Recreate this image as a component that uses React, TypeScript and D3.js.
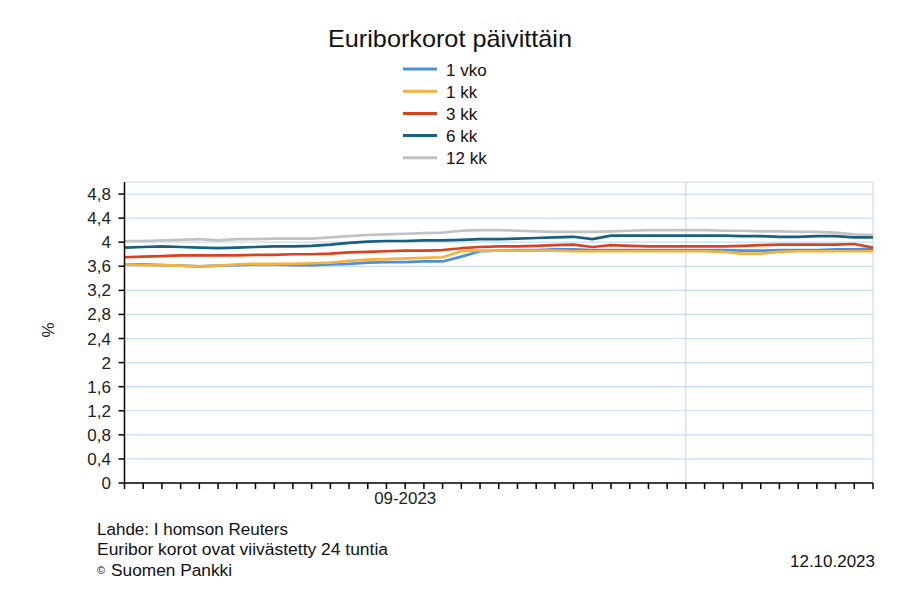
import React from "react";
import * as d3 from "d3";

const seriesNames = ["1 vko", "1 kk", "3 kk", "6 kk", "12 kk"];
const seriesColors = ["#4a8fe0", "#f5b13d", "#d8431c", "#17607f", "#c2c2c2"];

const vko1 = [3.63, 3.63, 3.62, 3.61, 3.60, 3.61, 3.62, 3.63, 3.63, 3.62, 3.62, 3.63, 3.64, 3.66, 3.67, 3.67, 3.68, 3.68, 3.76, 3.85, 3.86, 3.87, 3.87, 3.88, 3.88, 3.87, 3.87, 3.87, 3.87, 3.87, 3.87, 3.87, 3.87, 3.86, 3.86, 3.87, 3.87, 3.87, 3.88, 3.88, 3.89];
const kk1 = [3.63, 3.62, 3.62, 3.61, 3.60, 3.61, 3.63, 3.64, 3.64, 3.64, 3.65, 3.66, 3.69, 3.71, 3.72, 3.73, 3.74, 3.75, 3.85, 3.86, 3.86, 3.86, 3.86, 3.86, 3.85, 3.85, 3.85, 3.85, 3.85, 3.85, 3.85, 3.85, 3.84, 3.81, 3.81, 3.84, 3.85, 3.85, 3.85, 3.85, 3.85];
const kk3 = [3.75, 3.76, 3.77, 3.78, 3.78, 3.78, 3.78, 3.79, 3.79, 3.80, 3.80, 3.81, 3.83, 3.84, 3.85, 3.86, 3.86, 3.87, 3.90, 3.92, 3.93, 3.93, 3.94, 3.95, 3.96, 3.92, 3.95, 3.94, 3.93, 3.93, 3.93, 3.93, 3.93, 3.94, 3.95, 3.96, 3.96, 3.96, 3.96, 3.97, 3.91];
const kk6 = [3.91, 3.92, 3.93, 3.92, 3.91, 3.90, 3.91, 3.92, 3.93, 3.93, 3.94, 3.96, 3.99, 4.01, 4.02, 4.02, 4.03, 4.03, 4.04, 4.05, 4.05, 4.06, 4.07, 4.08, 4.09, 4.05, 4.11, 4.11, 4.11, 4.11, 4.11, 4.11, 4.11, 4.10, 4.10, 4.09, 4.09, 4.10, 4.10, 4.08, 4.08];
const kk12 = [4.02, 4.02, 4.03, 4.04, 4.05, 4.03, 4.05, 4.05, 4.06, 4.06, 4.06, 4.08, 4.10, 4.12, 4.13, 4.14, 4.15, 4.16, 4.19, 4.20, 4.20, 4.19, 4.18, 4.17, 4.17, 4.17, 4.18, 4.19, 4.20, 4.20, 4.20, 4.20, 4.19, 4.19, 4.18, 4.18, 4.17, 4.17, 4.16, 4.13, 4.12];

const yTicks = [0, 0.4, 0.8, 1.2, 1.6, 2, 2.4, 2.8, 3.2, 3.6, 4, 4.4, 4.8];
const xTickCount = 40;
const monthLabels = [{ index: 15, label: "09-2023" }];
const monthGridIdx = [30];

const FONT = "'Liberation Sans', Arial, sans-serif";

export default function App() {
  const left = 124.5, right = 873, top = 182, bottom = 483;
  const x = d3.scaleLinear().domain([0, xTickCount]).range([left, right]);
  const y = d3.scaleLinear().domain([0, 5]).range([bottom, top]);
  const all = [vko1, kk1, kk3, kk6, kk12];
  const line = d3
    .line<number>()
    .x((_, i) => x(i))
    .y((d) => y(d));
  const fmt = (v: number) => String(+v.toFixed(1)).replace(".", ",");
  const xTicks = d3.range(0, xTickCount + 1);

  return (
    <svg width={900} height={600} style={{ position: "absolute", left: 0, top: 0, background: "#fff" }}>
      <rect x={0} y={0} width={900} height={600} fill="#fff" />
      <text x={450} y={47} textAnchor="middle" fontFamily={FONT} fontSize={24} fill="#111" textLength={244} lengthAdjust="spacingAndGlyphs">
        Euriborkorot päivittäin
      </text>
      {seriesNames.map((n, i) => (
        <g key={n} transform={`translate(0, ${69 + i * 22.2})`}>
          <line x1={403} x2={437} y1={0} y2={0} stroke={seriesColors[i]} strokeWidth={3} />
          <text x={446} y={6.5} fontFamily={FONT} fontSize={17} fill="#111">
            {n}
          </text>
        </g>
      ))}

      {/* grid */}
      {yTicks.concat([5]).map((t) =>
        t === 0 ? null : (
          <line key={t} x1={left} x2={right} y1={y(t)} y2={y(t)} stroke="#c9dcf2" strokeWidth={1.2} />
        )
      )}
      <line x1={right} x2={right} y1={top} y2={bottom} stroke="#c9dcf2" strokeWidth={1.2} />
      {monthGridIdx.map((m) => (
        <line key={m} x1={x(m)} x2={x(m)} y1={top} y2={bottom} stroke="#c9dcf2" strokeWidth={1.2} />
      ))}

      {/* series */}
      {all.map((s, i) => (
        <path key={i} d={line(s) || ""} fill="none" stroke={seriesColors[i]} strokeWidth={2.7} strokeLinejoin="round" />
      ))}

      {/* axes */}
      <line x1={left} x2={left} y1={top} y2={bottom} stroke="#000" strokeWidth={1.5} />
      <line x1={left} x2={right} y1={bottom} y2={bottom} stroke="#000" strokeWidth={1.5} />
      {yTicks.map((t) => (
        <g key={t}>
          <line x1={left - 6} x2={left} y1={y(t)} y2={y(t)} stroke="#000" strokeWidth={1.5} />
          <text x={111} y={y(t) + 6} textAnchor="end" fontFamily={FONT} fontSize={17} fill="#222">
            {fmt(t)}
          </text>
        </g>
      ))}
      {xTicks.map((t) => (
        <line key={t} x1={x(t)} x2={x(t)} y1={bottom} y2={bottom + 6} stroke="#000" strokeWidth={1.5} />
      ))}
      {monthLabels.map((m) => (
        <text key={m.label} x={x(m.index)} y={504} textAnchor="middle" fontFamily={FONT} fontSize={16} fill="#222" textLength={62} lengthAdjust="spacingAndGlyphs">
          {m.label}
        </text>
      ))}
      <text
        transform={`translate(54, 330) rotate(-90)`}
        textAnchor="middle"
        fontFamily={FONT}
        fontSize={17}
        fill="#222"
      >
        %
      </text>

      {/* footer */}
      <g fontFamily={FONT} fontSize={16} fill="#111">
        <text x={97} y={535} textLength={191} lengthAdjust="spacingAndGlyphs">Lahde:  I homson Reuters</text>
        <text x={97} y={555} textLength={291} lengthAdjust="spacingAndGlyphs">Euribor korot ovat viivästetty 24 tuntia</text>
        <text x={97} y={574} fontSize={11}>©</text>
        <text x={111} y={576} textLength={121} lengthAdjust="spacingAndGlyphs">Suomen Pankki</text>
        <text x={875} y={567} textAnchor="end" textLength={85} lengthAdjust="spacingAndGlyphs">12.10.2023</text>
      </g>
    </svg>
  );
}
